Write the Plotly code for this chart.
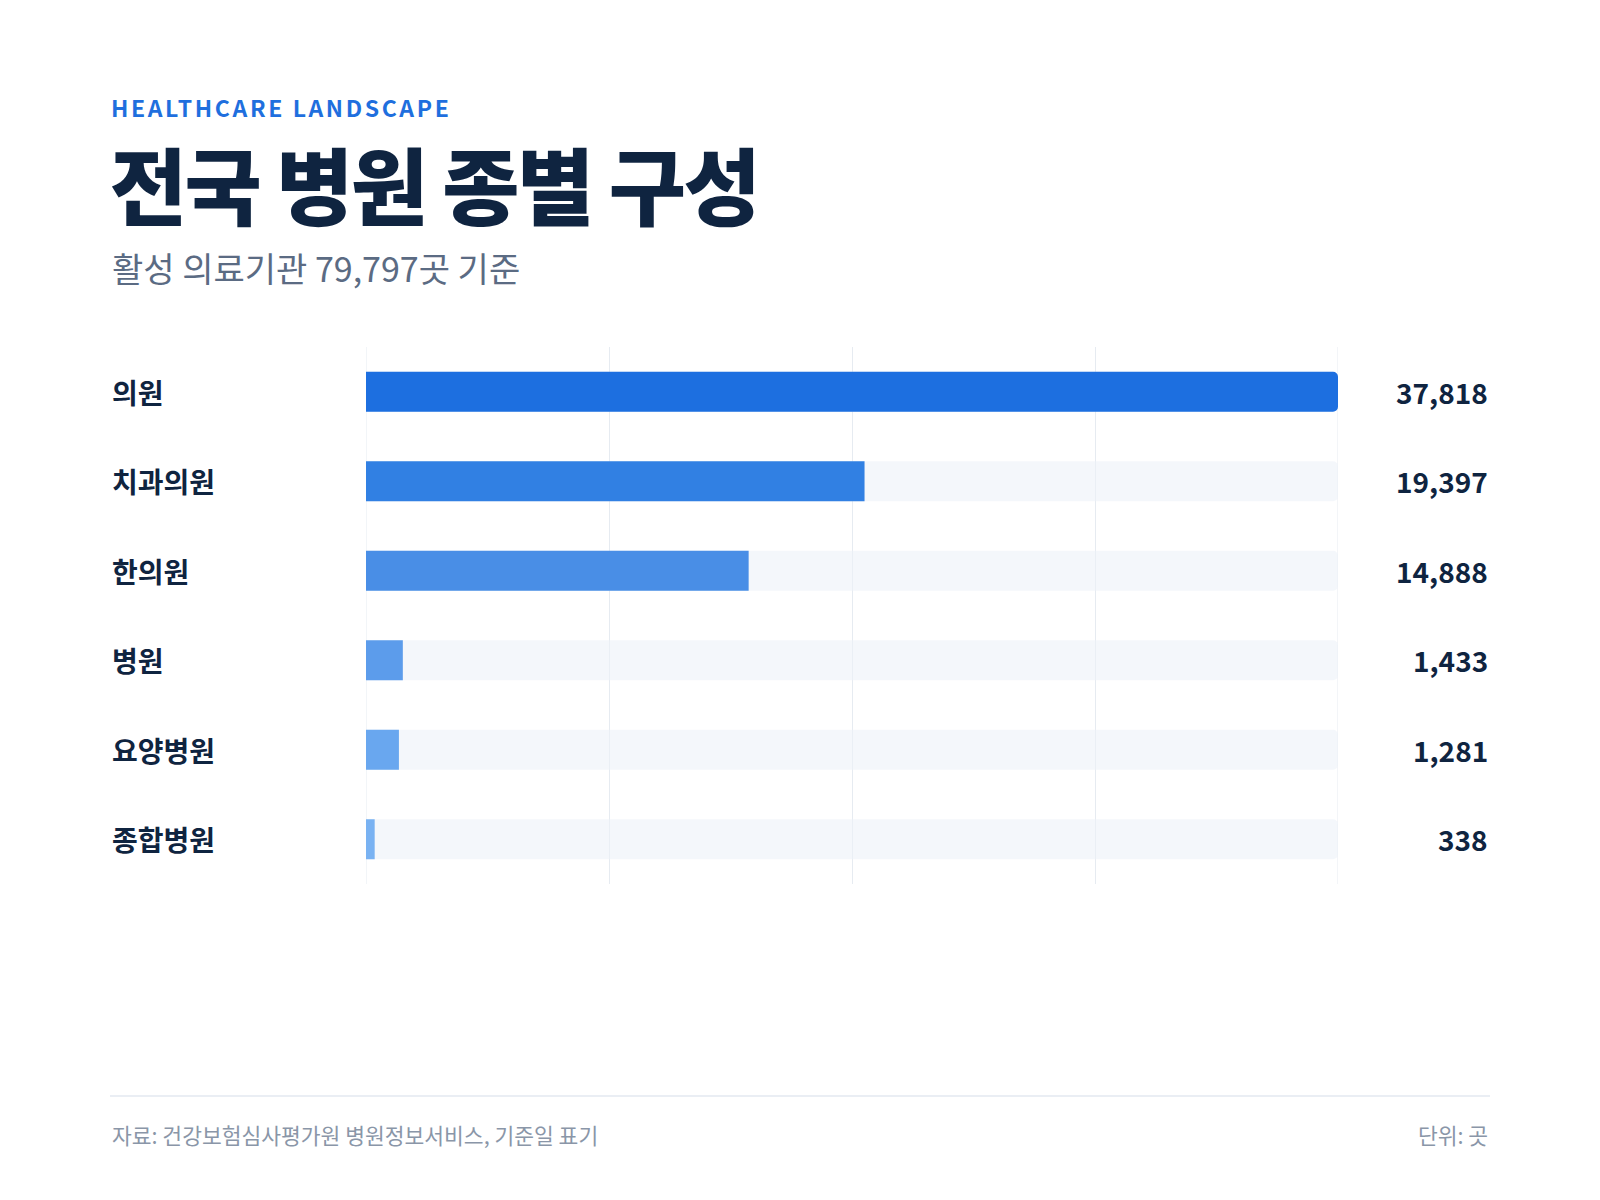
import plotly.graph_objects as go

# data
categories = ["의원", "치과의원", "한의원", "병원", "요양병원", "종합병원"]
counts = [37818, 19397, 14888, 1433, 1281, 338]
bar_colors = ["#1d6fe0", "#3180e3", "#498ee6", "#5c9ceb", "#69a7ef", "#79b2f2"]
total_label = "활성 의료기관 79,797곳 기준"

FONT = "Noto Sans CJK KR"
INK = "#0f2440"
GRID = "#e6ebf1"
W, H = 1600, 1200
LEFT, RIGHT = 102, 1482  # text block edges (px)
PLOT_TOP, PLOT_BOTTOM = 339, 876

max_val = max(counts)
grid_ticks = [max_val * f for f in (0, 0.25, 0.5, 0.75, 1.0)]

fig = go.Figure()

# light track behind each bar
fig.add_trace(
    go.Bar(
        y=categories,
        x=[max_val] * len(categories),
        orientation="h",
        marker=dict(color="rgba(236,242,248,0.6)", line=dict(width=0)),
        width=0.447,
        hoverinfo="skip",
        showlegend=False,
    )
)

# actual counts
fig.add_trace(
    go.Bar(
        y=categories,
        x=counts,
        orientation="h",
        marker=dict(color=bar_colors, line=dict(width=0)),
        width=0.447,
        hovertemplate="%{y}: %{x:,}곳<extra></extra>",
        showlegend=False,
    )
)

annotations = []
# row labels (left) and values (right)
for cat, val in zip(categories, counts):
    annotations.append(
        dict(
            x=LEFT / W, xref="paper", y=cat, yref="y",
            text=cat, showarrow=False, xanchor="left", yanchor="middle",
            font=dict(family=FONT, size=28, color=INK, weight=700),
        )
    )
    annotations.append(
        dict(
            x=RIGHT / W, xref="paper", y=cat, yref="y",
            text=f"{val:,}", showarrow=False, xanchor="right", yanchor="middle",
            font=dict(family=FONT, size=28, color=INK, weight=700),
        )
    )

# header block
# (x offsets on the first two make up for the letter-spacing set in post_script,
#  which grows/shrinks the text around its centre)
annotations += [
    dict(
        x=(LEFT + 25) / W, y=1 - 99 / H, xref="paper", yref="paper",
        text="HEALTHCARE LANDSCAPE", showarrow=False,
        xanchor="left", yanchor="middle",
        font=dict(family=FONT, size=23, color="#1f6fde", weight=700),
    ),
    dict(
        x=(LEFT - 16) / W, y=1 - 174 / H, xref="paper", yref="paper",
        text="전국 병원 종별 구성", showarrow=False,
        xanchor="left", yanchor="middle",
        font=dict(family=FONT, size=84, color=INK, weight=900),
    ),
    dict(
        x=LEFT / W, y=1 - 259 / H, xref="paper", yref="paper",
        text=total_label, showarrow=False,
        xanchor="left", yanchor="middle",
        font=dict(family=FONT, size=34, color="#5b6b83"),
    ),
    # footer
    dict(
        x=LEFT / W, y=1 - 1126 / H, xref="paper", yref="paper",
        text="자료: 건강보험심사평가원 병원정보서비스, 기준일 표기", showarrow=False,
        xanchor="left", yanchor="middle",
        font=dict(family=FONT, size=21.5, color="#8a96a8"),
    ),
    dict(
        x=RIGHT / W, y=1 - 1126 / H, xref="paper", yref="paper",
        text="단위: 곳", showarrow=False,
        xanchor="right", yanchor="middle",
        font=dict(family=FONT, size=21.5, color="#8a96a8"),
    ),
]

# plotly drops grid lines sitting on the range ends, so draw those two by hand
edge_lines = [
    dict(
        type="line", xref="x", yref="paper", layer="below",
        x0=v, x1=v, y0=1 - PLOT_BOTTOM / H, y1=1 - PLOT_TOP / H,
        line=dict(color=GRID, width=1),
    )
    for v in (grid_ticks[0], grid_ticks[-1])
]

fig.update_layout(
    width=W,
    height=H,
    margin=dict(l=0, r=0, t=0, b=0),
    paper_bgcolor="white",
    plot_bgcolor="white",
    barmode="overlay",
    barcornerradius=5,
    font=dict(family=FONT, color=INK),
    xaxis=dict(
        domain=[358 / W, 1330 / W],
        range=[0, max_val],
        tickvals=grid_ticks,
        showticklabels=False,
        showgrid=True,
        gridcolor=GRID,
        gridwidth=1,
        zeroline=False,
        showline=False,
        fixedrange=True,
    ),
    yaxis=dict(
        domain=[1 - PLOT_BOTTOM / H, 1 - PLOT_TOP / H],
        range=[len(categories) - 0.5, -0.5],
        showticklabels=False,
        showgrid=False,
        zeroline=False,
        showline=False,
        fixedrange=True,
    ),
    annotations=annotations,
    shapes=edge_lines
    + [
        dict(
            type="line", xref="paper", yref="paper",
            x0=LEFT / W, x1=RIGHT / W, y0=1 - 1088 / H, y1=1 - 1088 / H,
            line=dict(color="#e3e9f0", width=1.5),
        )
    ],
)

# plotly has no letter-spacing option, so tweak the two header texts in the page
letter_spacing_js = """
document.querySelectorAll('.annotation-text').forEach(function (t) {
  if (t.textContent === 'HEALTHCARE LANDSCAPE') { t.style.letterSpacing = '2.6px'; }
  if (t.textContent === '전국 병원 종별 구성') { t.style.letterSpacing = '-2.5px'; }
});
"""

fig.write_html("out.html", post_script=letter_spacing_js)
